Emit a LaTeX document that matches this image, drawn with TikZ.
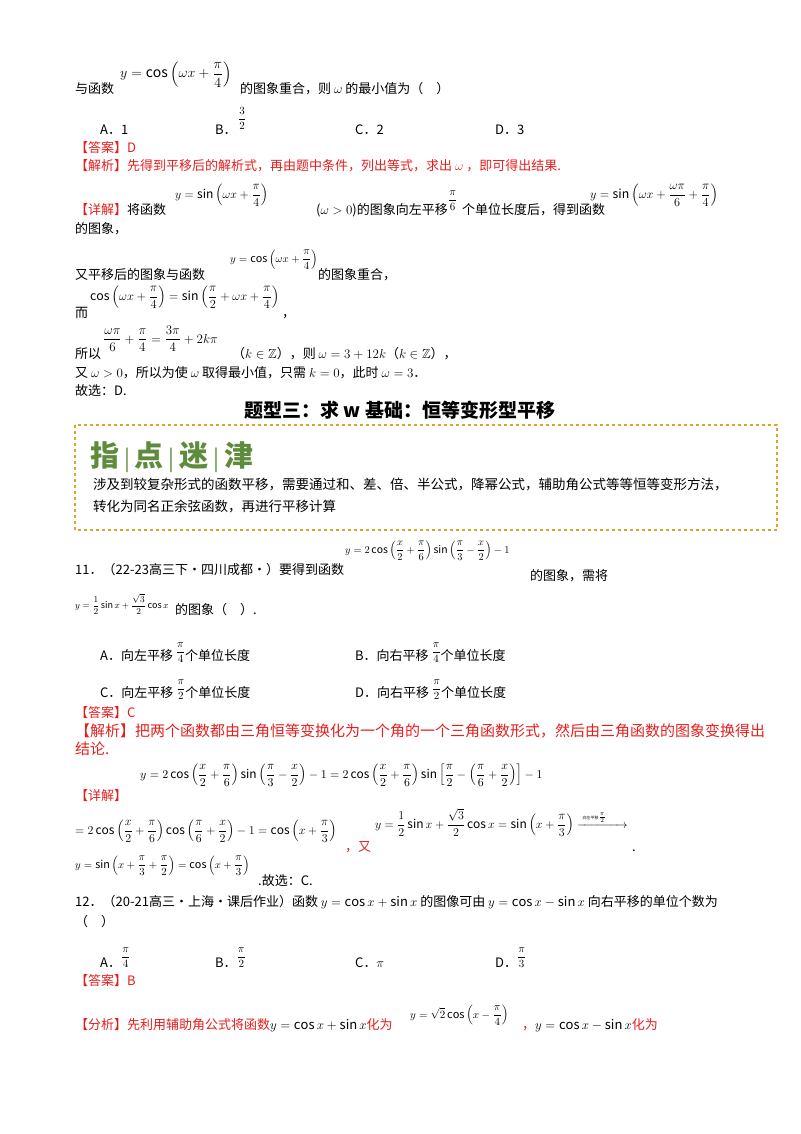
\RequirePackage{fix-cm}
\documentclass[tikz,border=0pt]{standalone}
\usepackage{amsmath,amssymb}
\usepackage{fontspec}
\setmainfont{Noto Sans CJK SC}
\newcommand{\fs}[1]{\fontsize{#1}{#1}\selectfont}
\begin{document}
\begin{tikzpicture}[x=1pt,y=-1pt,
  every node/.style={inner sep=0pt,anchor=base west,font=\fontsize{13}{15}\selectfont},
  red/.style={text={rgb,255:red,230;green,30;blue,30}},
  sm/.style={font=\fs{#1}},sm/.default=12]
\useasboundingbox (0,0) rectangle (800,1134);
\definecolor{myred}{RGB}{230,30,30}
\definecolor{gold}{RGB}{220,165,40}
\definecolor{leaf}{RGB}{95,140,60}
% top
\node[sm=14] (m1) at (120,78) {$y=\cos\left(\omega x+\dfrac{\pi}{4}\right)$};
\node (t1) at (75,94) {与函数};
\node (t2) at (240,94) {的图象重合，则 $\omega$ 的最小值为（　）};
\node (a1) at (100,135) {A．1};
\node (b1) at (215,135) {B．};
\node[sm=11] (b1f) at (238,122) {$\dfrac{3}{2}$};
\node (c1) at (355,135) {C．2};
\node (d1) at (495,135) {D．3};
\node[red] (r1) at (75,153) {【答案】D};
\node[red] (r2) at (75,171) {【解析】先得到平移后的解析式，再由题中条件，列出等式，求出 $\omega$ ，即可得出结果.};
\node[sm=12] (m2) at (175,198) {$y=\sin\left(\omega x+\dfrac{\pi}{4}\right)$};
\node (t3) at (75,214) {\textcolor{myred}{【详解】}将函数};
\node (t4) at (316,214) {($\omega>0$)的图象向左平移};
\node[sm=11] (m3) at (448,203) {$\dfrac{\pi}{6}$};
\node (t5) at (462,214) {个单位长度后，得到函数};
\node[sm=12.3] (m4) at (590,198) {$y=\sin\left(\omega x+\dfrac{\omega\pi}{6}+\dfrac{\pi}{4}\right)$};
\node (t6) at (75,233) {的图象，};
\node[sm=10.8] (m5) at (230,262) {$y=\cos\left(\omega x+\dfrac{\pi}{4}\right)$};
\node (t7) at (75,279) {又平移后的图象与函数};
\node (t8) at (318,279) {的图象重合，};
\node[sm=12.3] (m6) at (90,300) {$\cos\left(\omega x+\dfrac{\pi}{4}\right)=\sin\left(\dfrac{\pi}{2}+\omega x+\dfrac{\pi}{4}\right)$};
\node (t9) at (75,317) {而};
\node (t9b) at (282,317) {，};
\node[sm=13] (m7) at (103,343) {$\dfrac{\omega\pi}{6}+\dfrac{\pi}{4}=\dfrac{3\pi}{4}+2k\pi$};
\node (t10) at (75,358) {所以};
\node (t11) at (232,358) {（$k\in\mathbb{Z}$），则 $\omega=3+12k$（$k\in\mathbb{Z}$），};
\node (t12) at (75,377) {又 $\omega>0$，所以为使 $\omega$ 取得最小值，只需 $k=0$，此时 $\omega=3$．};
\node (t13) at (75,395) {故选：D.};
% title
\node[anchor=base,font=\fs{19}\bfseries] (title) at (400,417) {题型三：求 w 基础：恒等变形型平移};
\draw[gold,dashed,line width=1.5pt] (75,425) rectangle (777,530);
\node[leaf,font=\fs{29}\bfseries] (zd) at (90,466) {指\,{\mdseries\fs{22}|}\,点\,{\mdseries\fs{22}|}\,迷\,{\mdseries\fs{22}|}\,津};
\node[font=\fs{13.5}] (bx1) at (93,489) {涉及到较复杂形式的函数平移，需要通过和、差、倍、半公式，降幂公式，辅助角公式等等恒等变形方法，};
\node[font=\fs{13.5}] (bx2) at (93,511) {转化为同名正余弦函数，再进行平移计算};
% problem 11
\node[sm=10.4] (m8) at (345,553) {$y=2\cos\left(\dfrac{x}{2}+\dfrac{\pi}{6}\right)\sin\left(\dfrac{\pi}{3}-\dfrac{x}{2}\right)-1$};
\node (t14) at (75,574) {11．（22-23高三下·四川成都·）要得到函数};
\node (t15) at (530,580) {的图象，需将};
\node[sm=9] (m9) at (75,608) {$y=\dfrac{1}{2}\sin x+\dfrac{\sqrt{3}}{2}\cos x$};
\node (t16) at (175,614) {的图象（　）.};
\node (o1) at (100,660) {A．向左平移 \raisebox{5pt}{\fs{11}$\dfrac{\pi}{4}$}个单位长度};
\node (o2) at (355,660) {B．向右平移 \raisebox{5pt}{\fs{11}$\dfrac{\pi}{4}$}个单位长度};
\node (o3) at (100,697) {C．向左平移 \raisebox{5pt}{\fs{11}$\dfrac{\pi}{2}$}个单位长度};
\node (o4) at (355,697) {D．向右平移 \raisebox{5pt}{\fs{11}$\dfrac{\pi}{2}$}个单位长度};
\node[red] (r3) at (75,717) {【答案】C};
\node[red,font=\fs{15}] (r4) at (75,736) {【解析】把两个函数都由三角恒等变换化为一个角的一个三角函数形式，然后由三角函数的图象变换得出};
\node[red,font=\fs{15}] (r5) at (75,754) {结论.};
\node[sm=11.9] (m10) at (140,778) {$y=2\cos\left(\dfrac{x}{2}+\dfrac{\pi}{6}\right)\sin\left(\dfrac{\pi}{3}-\dfrac{x}{2}\right)-1=2\cos\left(\dfrac{x}{2}+\dfrac{\pi}{6}\right)\sin\left[\dfrac{\pi}{2}-\left(\dfrac{\pi}{6}+\dfrac{x}{2}\right)\right]-1$};
\node[red] (r6) at (75,800) {【详解】};
\node[sm=12] (m11) at (75,834) {$=2\cos\left(\dfrac{x}{2}+\dfrac{\pi}{6}\right)\cos\left(\dfrac{\pi}{6}+\dfrac{x}{2}\right)-1=\cos\left(x+\dfrac{\pi}{3}\right)$};
\node[red] (r7) at (345,851) {，又};
\node[sm=12] (m12) at (375,828) {$y=\dfrac{1}{2}\sin x+\dfrac{\sqrt{3}}{2}\cos x=\sin\left(x+\dfrac{\pi}{3}\right)\xrightarrow{\hspace{3pt}\text{\fs{4}向左平移}\frac{\pi}{2}\hspace{18pt}}$};
\node (t17) at (632,851) {.};
\node[sm=10.8] (m13) at (75,868) {$y=\sin\left(x+\dfrac{\pi}{3}+\dfrac{\pi}{2}\right)=\cos\left(x+\dfrac{\pi}{3}\right)$};
\node (t18) at (258,885) {.故选：C.};
% problem 12
\node (t19) at (75,906) {12．（20-21高三·上海·课后作业）函数 $y=\cos x+\sin x$ 的图像可由 $y=\cos x-\sin x$ 向右平移的单位个数为};
\node (t20) at (75,926) {（　）};
\node (a2) at (100,967) {A．\raisebox{7pt}{\fs{11}$\dfrac{\pi}{4}$}};
\node (b2) at (215,967) {B．\raisebox{7pt}{\fs{11}$\dfrac{\pi}{2}$}};
\node (c2) at (355,967) {C．$\pi$};
\node (d2) at (495,967) {D．\raisebox{7pt}{\fs{11}$\dfrac{\pi}{3}$}};
\node[red] (r8) at (75,985) {【答案】B};
\node[sm=11] (m14) at (410,1018) {$y=\sqrt{2}\cos\left(x-\dfrac{\pi}{4}\right)$};
\node (t21) at (75,1029) {\textcolor{myred}{【分析】先利用辅助角公式将函数}$y=\cos x+\sin x$\textcolor{myred}{化为}};
\node (t22) at (522,1029) {\textcolor{myred}{，}$y=\cos x-\sin x$\textcolor{myred}{化为}};
\end{tikzpicture}
\end{document}
